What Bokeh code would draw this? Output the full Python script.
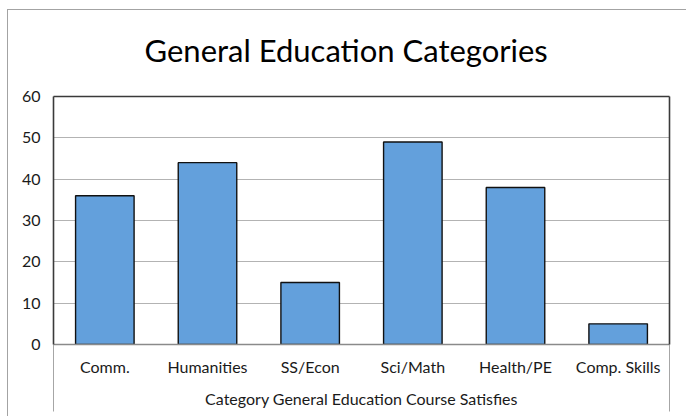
from bokeh.plotting import figure
from bokeh.models import FactorRange, Range1d, FixedTicker, LinearAxis
from bokeh.embed import file_html
from bokeh.resources import INLINE

categories = ["Comm.", "Humanities", "SS/Econ", "Sci/Math", "Health/PE", "Comp. Skills"]
counts = [36, 44, 15, 49, 38, 5]
y_ticks = [0, 10, 20, 30, 40, 50, 60]
title_text = "General Education Categories"
x_label = "Category General Education Course Satisfies"

FONT = "Lato"
TXT = "#1a1a1a"
EDGE = "#3a3a3a"

p = figure(x_range=FactorRange(factors=categories), y_range=Range1d(0, 60),
           x_axis_location=None, y_axis_location=None,
           width=678, height=406, output_backend="svg", toolbar_location=None,
           min_border_left=45, min_border_right=18, min_border_top=86, min_border_bottom=73)
p.styles = {"margin-left": "7px", "margin-top": "9px",
            "border-left": "1px solid #a3a3a3", "border-top": "1px solid #a3a3a3",
            "box-sizing": "content-box"}
p.background_fill_color = "white"
p.border_fill_color = "white"
p.outline_line_color = None

p.title.text = title_text
p.title.align = "left"
p.title.offset = 91
p.title.standoff = 4
p.title.text_font = FONT
p.title.text_font_size = "31px"
p.title.text_font_style = "normal"
p.title.text_color = "black"

p.vbar(x=categories, top=counts, width=0.57, fill_color="#63a0dc",
       line_color="#111111", line_width=1.4)

p.xgrid.visible = False
p.ygrid.ticker = FixedTicker(ticks=y_ticks)
p.ygrid.grid_line_color = "#b3b3b3"
p.ygrid.grid_line_width = 1.2

# left value axis (its line is the left edge of the plot area)
ya = LinearAxis(ticker=FixedTicker(ticks=y_ticks))
ya.axis_line_color = EDGE
ya.axis_line_width = 1.6
ya.major_tick_line_color = None
ya.minor_tick_line_color = None
ya.major_label_standoff = 7
ya.major_label_text_font = FONT
ya.major_label_text_font_size = "16px"
ya.major_label_text_color = TXT
p.add_layout(ya, "left")

# category axis
centers = [i + 0.5 for i in range(len(categories))]
xa = LinearAxis(ticker=FixedTicker(ticks=centers, minor_ticks=[0, len(categories)]),
                major_label_overrides={c: lab for c, lab in zip(centers, categories)})
xa.axis_line_color = "#8a8a8a"
xa.axis_line_width = 1.6
xa.major_tick_line_color = None
xa.minor_tick_line_color = "#a6a6a6"
xa.minor_tick_in = 0
xa.minor_tick_out = 67
xa.major_label_standoff = -55
xa.major_label_text_font = FONT
xa.major_label_text_font_size = "16px"
xa.major_label_text_color = TXT
xa.axis_label = x_label
xa.axis_label_standoff = 10
xa.axis_label_text_font = FONT
xa.axis_label_text_font_size = "16px"
xa.axis_label_text_font_style = "normal"
xa.axis_label_text_color = TXT
p.add_layout(xa, "below")

# plain dark right edge of the plot area
ra = LinearAxis(ticker=FixedTicker(ticks=[]))
ra.axis_line_color = EDGE
ra.axis_line_width = 1.6
ra.major_tick_line_color = None
ra.minor_tick_line_color = None
ra.major_label_text_font_size = "0px"
p.add_layout(ra, "right")

# dark top edge; its (invisible) tick leaves the gap between title and plot area
mid = len(categories) / 2
ta = LinearAxis(ticker=FixedTicker(ticks=[mid]), major_label_overrides={mid: ""})
ta.axis_line_color = EDGE
ta.axis_line_width = 1.6
ta.major_tick_line_color = None
ta.minor_tick_line_color = None
ta.major_tick_in = 0
ta.major_tick_out = 26
ta.minor_tick_out = 0
ta.major_label_text_font_size = "0px"
ta.major_label_standoff = 0
p.add_layout(ta, "above")

open("out.html", "w").write(file_html(p, INLINE))
